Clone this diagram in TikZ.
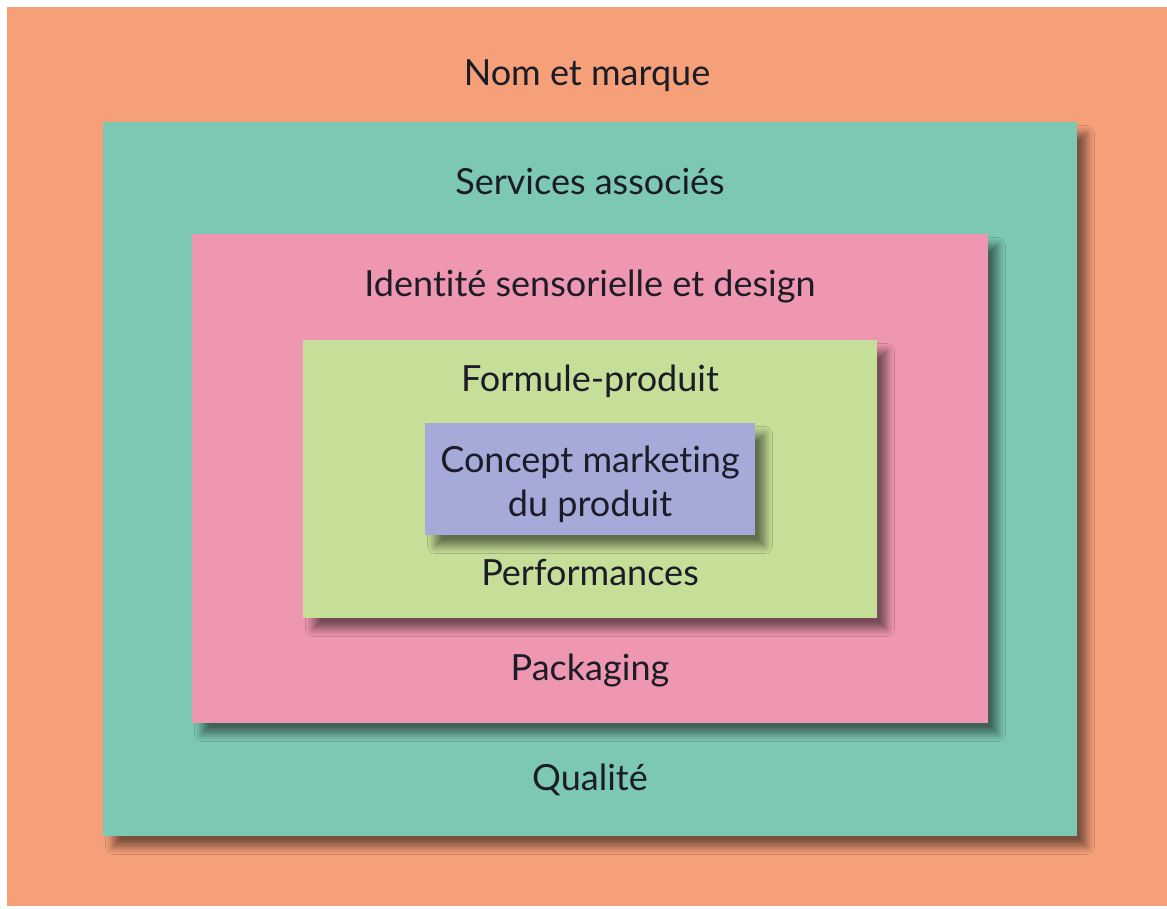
\documentclass[tikz,border=0pt]{standalone}
\usepackage{fontspec}
\setmainfont{Lato}[Ligatures=NoCommon]
\usetikzlibrary{positioning,shadows.blur}

\definecolor{nomcol}{RGB}{246,160,122}
\definecolor{servcol}{RGB}{124,200,178}
\definecolor{identcol}{RGB}{239,151,176}
\definecolor{formcol}{RGB}{197,222,152}
\definecolor{conccol}{RGB}{166,170,216}
\definecolor{txtcol}{RGB}{28,28,40}

\tikzset{
  layer/.style={rectangle, inner sep=0pt},
  shadowed/.style={blur shadow={shadow xshift=0.2cm, shadow yshift=-0.22cm, shadow blur radius=0.15cm, shadow blur steps=10, shadow opacity=50}},
  lbl/.style={text=txtcol, font=\fontsize{20.5}{25}\selectfont, align=center, inner sep=0pt}
}

\begin{document}
\begin{tikzpicture}[x=0.02cm, y=-0.02cm]
\useasboundingbox (0,0) rectangle (1167,909);

% Boxes from outside in
\node[layer, fill=nomcol, minimum width=23.2cm, minimum height=17.98cm] (nom) at (587,456.5) {};
\node[layer, shadowed, fill=servcol, minimum width=19.48cm, minimum height=14.28cm] (serv) at (590,479) {};
\node[layer, shadowed, fill=identcol, minimum width=15.92cm, minimum height=9.78cm] (ident) at (590,478.5) {};
\node[layer, shadowed, fill=formcol, minimum width=11.48cm, minimum height=5.56cm] (form) at (590,479) {};
\node[layer, shadowed, fill=conccol, minimum width=6.6cm, minimum height=2.24cm] (conc) at (590,479) {};

% Labels
\node[lbl, below=1.38cm of nom.north, anchor=center] (nomlbl) {Nom et marque};
\node[lbl, below=1.2cm of serv.north, anchor=center] (servlbl) {Services associés};
\node[lbl, below=1.06cm of ident.north, anchor=center] (identlbl) {Identité sensorielle et design};
\node[lbl, below=0.84cm of form.north, anchor=center] (formlbl) {Formule-produit};
\node[lbl, below=0.1cm of conc.center, anchor=center] (conclbl) {Concept marketing\\du produit};
\node[lbl, above=0.92cm of form.south, anchor=center] (perflbl) {Performances};
\node[lbl, above=1.06cm of ident.south, anchor=center] (packlbl) {Packaging};
\node[lbl, above=1.12cm of serv.south, anchor=center] (qualLbl) {Qualité};
\end{tikzpicture}
\end{document}
